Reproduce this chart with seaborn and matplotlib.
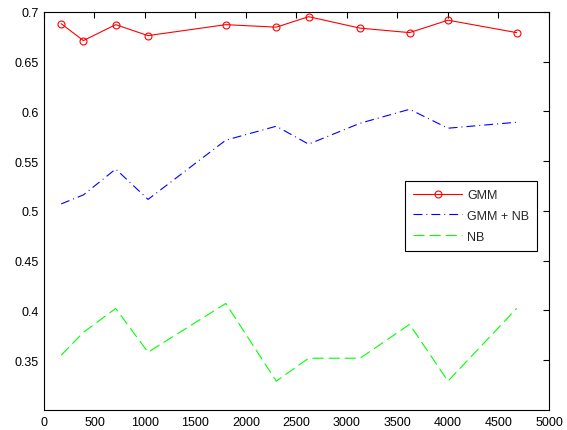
import matplotlib
matplotlib.use("Agg")
import matplotlib.pyplot as plt
import seaborn as sns

# values
x_vals = [170, 390, 710, 1030, 1800, 2300, 2620, 3130, 3620, 4000, 4680]
gmm = [0.688, 0.671, 0.687, 0.676, 0.687, 0.6845, 0.695, 0.6835, 0.679, 0.6915, 0.679]
gmm_nb = [0.507, 0.516, 0.542, 0.5115, 0.571, 0.585, 0.567, 0.588, 0.602, 0.583, 0.589]
nb = [0.355, 0.378, 0.402, 0.358, 0.407, 0.329, 0.352, 0.352, 0.386, 0.329, 0.402]
y_ticks = [0.35, 0.4, 0.45, 0.5, 0.55, 0.6, 0.65, 0.7]
x_ticks = [0, 500, 1000, 1500, 2000, 2500, 3000, 3500, 4000, 4500, 5000]

sns.set_style("white")
plt.rcParams["font.family"] = ["Liberation Sans", "DejaVu Sans"]

fig = plt.figure(figsize=(5.67, 4.31), dpi=100)
ax = fig.add_axes([0.0776, 0.0464, 0.8906, 0.9241])

sns.lineplot(x=x_vals, y=gmm, ax=ax, color=(1, 0, 0), linewidth=0.8,
             marker="o", markersize=5, markerfacecolor="none",
             markeredgecolor=(1, 0, 0), markeredgewidth=0.8, label="GMM")
sns.lineplot(x=x_vals, y=gmm_nb, ax=ax, color=(0, 0, 1), linewidth=0.8,
             linestyle=(0, (8, 3.6, 0.9, 3.6)), label="GMM + NB")
sns.lineplot(x=x_vals, y=nb, ax=ax, color=(0, 1, 0), linewidth=0.8,
             linestyle=(0, (10, 4.5)), label="NB")

ax.set_xlim(0, 5000)
ax.set_ylim(0.3, 0.7)
ax.set_xticks(x_ticks)
ax.set_yticks(y_ticks)
ax.set_xticklabels([str(t) for t in x_ticks])
ax.set_yticklabels(["%g" % t for t in y_ticks])
ax.tick_params(direction="in", length=4, width=0.8, top=True, right=True,
               labelsize=9, colors="black", pad=4)
for s in ax.spines.values():
    s.set_color("black")
    s.set_linewidth(0.8)

leg = ax.legend(loc="lower left", bbox_to_anchor=(0.715, 0.40, 0.262, 0.167),
                mode="expand", borderaxespad=0, fancybox=False, framealpha=1,
                edgecolor="black", fontsize=9, handlelength=3.9,
                handletextpad=0.4, borderpad=0.65, labelspacing=0.7)
leg.get_frame().set_linewidth(0.8)

fig.savefig("out.png", dpi=100)
